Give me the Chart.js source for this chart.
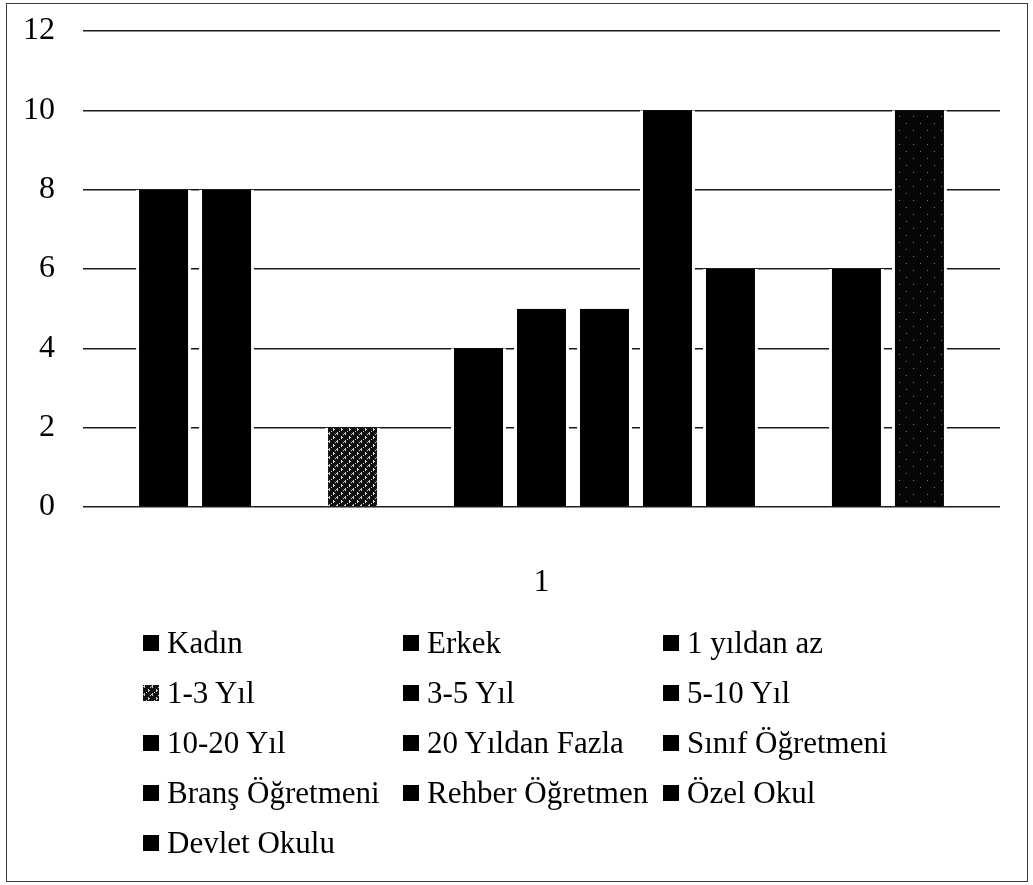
<!DOCTYPE html>
<html>
<head>
<meta charset="utf-8">
<script src="https://cdn.jsdelivr.net/npm/chart.js@4/dist/chart.umd.min.js"></script>
<style>
  body { margin: 0; background: #fff; }
  #frame { position: absolute; left: 6px; top: 3px; width: 1020px; height: 877px; border: 1.5px solid #3a3a3a; }
  #myBars { position: absolute; left: 0; top: 0; }
  #legend {
    position: absolute; left: 143px; top: 618px;
    display: grid; grid-template-columns: 260px 260px 260px; grid-auto-rows: 50px;
    align-items: center;
    font-family: "Liberation Serif", "Times New Roman", serif; font-size: 31px; color: #000;
  }
  .item { display: flex; align-items: center; white-space: nowrap; }
  .box { width: 16px; height: 16px; margin-right: 8px; background: #000; flex: none; }
</style>
</head>
<body>
<div id="frame"></div>
<canvas id="myBars" width="1033" height="620"></canvas>
<div id="legend"></div>
<script>
const categories = ['1'];
const seriesNames = ['Kadın', 'Erkek', '1 yıldan az', '1-3 Yıl', '3-5 Yıl', '5-10 Yıl', '10-20 Yıl',
  '20 Yıldan Fazla', 'Sınıf Öğretmeni', 'Branş Öğretmeni', 'Rehber Öğretmen', 'Özel Okul', 'Devlet Okulu'];
const seriesValues = [8, 8, 0, 2, 0, 4, 5, 5, 10, 6, 0, 6, 10];
const yTicks = [0, 2, 4, 6, 8, 10, 12];

// little tiles for the two textured series
function makeTile(size, bg, dotColor, dots) {
  const c = document.createElement('canvas');
  c.width = size; c.height = size;
  const g = c.getContext('2d');
  g.fillStyle = bg;
  g.fillRect(0, 0, size, size);
  g.fillStyle = dotColor;
  dots.forEach(d => g.fillRect(d[0], d[1], 1, 1));
  return c;
}
const tileGrey = makeTile(8, '#111', '#ccc', [[1,0],[1,1],[1,2],[0,1],[5,4],[5,5],[5,6],[6,5],[3,7],[7,2]]);
const tileDark = makeTile(14, '#050505', '#777', [[3,4],[10,11]]);

const ctx = document.getElementById('myBars').getContext('2d');
const fills = seriesNames.map((n, i) => {
  if (i === 3) return ctx.createPattern(tileGrey, 'repeat');
  if (i === 12) return ctx.createPattern(tileDark, 'repeat');
  return '#000';
});

const datasets = seriesNames.map((name, i) => ({
  label: name,
  data: [seriesValues[i]],
  backgroundColor: fills[i],
  borderColor: '#fff',
  borderWidth: { left: 3, right: 3, top: 0, bottom: 0 },
  borderSkipped: false,
  categoryPercentage: 0.893,
  barPercentage: 0.873
}));

const font = { family: '"Liberation Serif", "Times New Roman", serif', size: 32 };

new Chart(ctx, {
  type: 'bar',
  data: { labels: categories, datasets: datasets },
  options: {
    responsive: false,
    animation: false,
    events: [],
    layout: { padding: { left: 0, right: 33, top: 31, bottom: 0 } },
    plugins: { legend: { display: false }, tooltip: { enabled: false } },
    scales: {
      x: {
        grid: { display: false },
        border: { display: false },
        ticks: { color: '#000', font: font, padding: 48 },
        afterFit: s => { s.height = 113; }
      },
      y: {
        min: 0,
        max: 12,
        afterBuildTicks: s => { s.ticks = yTicks.map(v => ({ value: v })); },
        grid: { color: '#1a1a1a', lineWidth: 1.4, drawTicks: false },
        border: { display: false },
        ticks: { color: '#000', font: font, padding: 28 },
        afterFit: s => { s.width = 83; s.paddingTop = 0; s.paddingBottom = 0; }
      }
    }
  }
});

// legend laid out in three columns like the original
const legend = document.getElementById('legend');
seriesNames.forEach((name, i) => {
  const item = document.createElement('div');
  item.className = 'item';
  const box = document.createElement('span');
  box.className = 'box';
  if (i === 3) box.style.background = 'url(' + tileGrey.toDataURL() + ')';
  const txt = document.createElement('span');
  txt.textContent = name;
  item.appendChild(box);
  item.appendChild(txt);
  legend.appendChild(item);
});
</script>
</body>
</html>
